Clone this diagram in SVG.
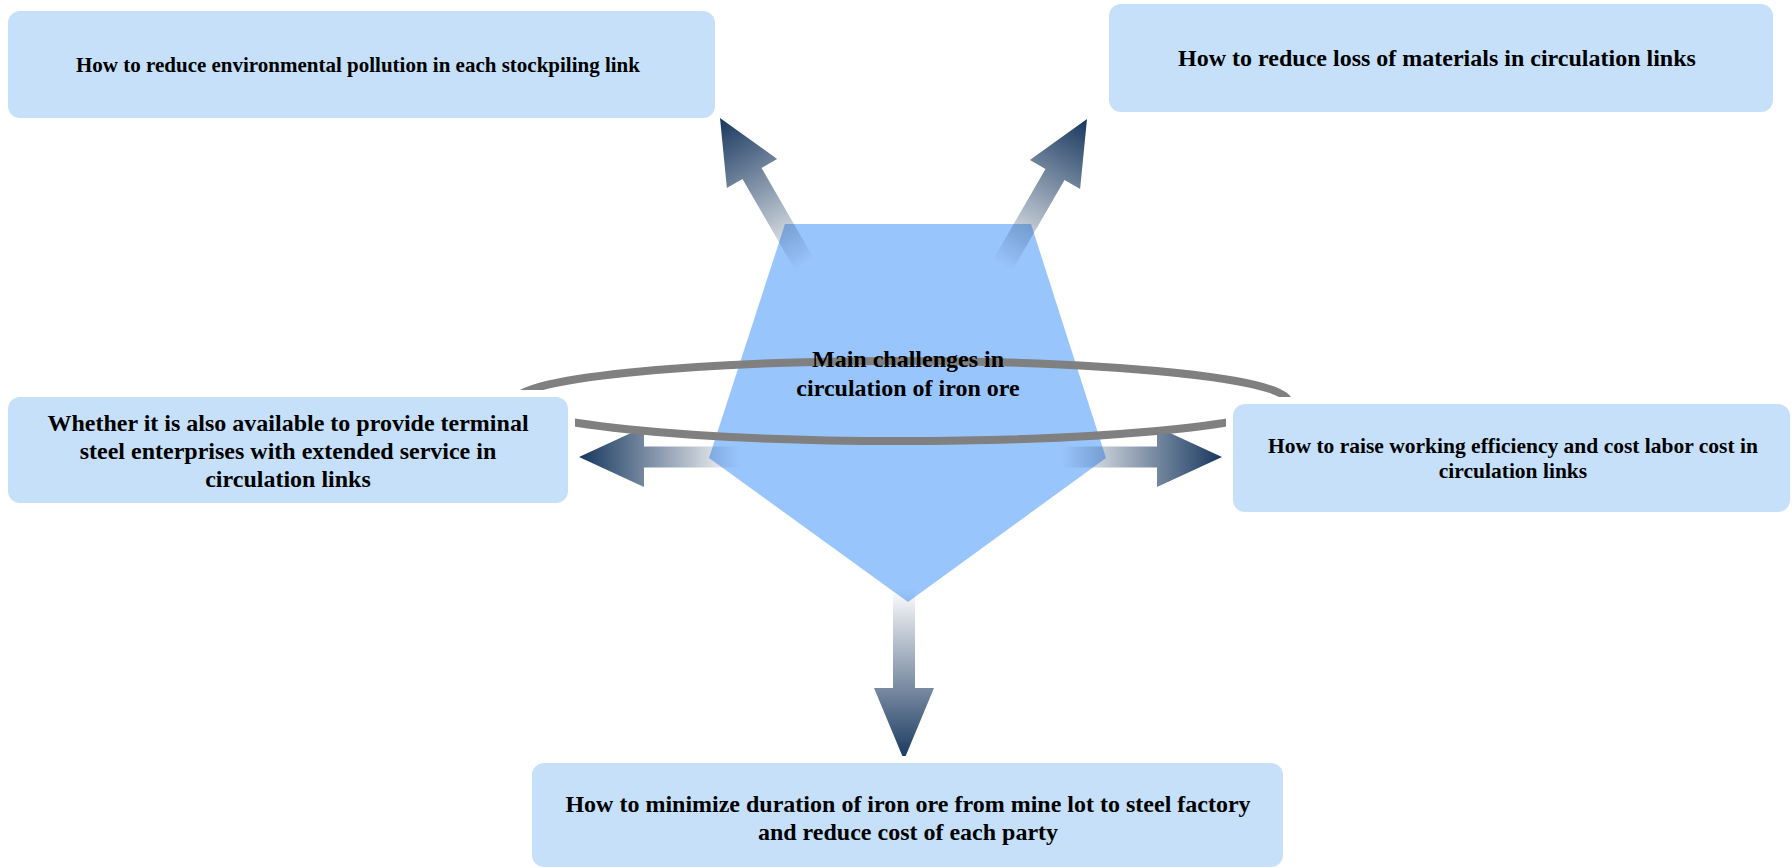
<svg xmlns="http://www.w3.org/2000/svg" width="1792" height="868" viewBox="0 0 1792 868">
  <style>
    .box { fill: #C6E0FA; }
    .halo { fill: #FFFFFF; }
    .hub { fill: #82B8FC; fill-opacity: 0.82; }
    .ring { fill: none; stroke: #808080; stroke-width: 8; }
    .arrow { fill: url(#fade); }
    .t { font-family: "Liberation Serif", "Times New Roman", serif; font-weight: bold; fill: #000000; text-anchor: middle; }
  </style>
  <defs>
    <!-- arrows run from a solid navy tip to a transparent tail -->
    <linearGradient id="fade" x1="0" y1="0" x2="0" y2="1">
      <stop offset="0" stop-color="#17375E" stop-opacity="1"/>
      <stop offset="1" stop-color="#17375E" stop-opacity="0"/>
    </linearGradient>
  </defs>

  <rect width="1792" height="868" fill="#FFFFFF"/>

  <!-- central pentagon -->
  <g id="hub">
    <polygon class="hub" points="785,224 1031,224 1106,458 908,602 709,458"/>
  </g>

  <!-- arrows pointing from the hub to each challenge -->
  <g id="connectors">
    <polygon class="arrow" transform="translate(720,118) rotate(-30)" points="0,0 29,64 11,64 11,170 -11,170 -11,64 -29,64"/>
    <polygon class="arrow" transform="translate(1087,119) rotate(30)" points="0,0 29,64 11,64 11,170 -11,170 -11,64 -29,64"/>
    <polygon class="arrow" transform="translate(579,457) rotate(-90)" points="0,0 30,65 10.5,65 10.5,161 -10.5,161 -10.5,65 -30,65"/>
    <polygon class="arrow" transform="translate(1222,457) rotate(90)" points="0,0 30,65 10.5,65 10.5,161 -10.5,161 -10.5,65 -30,65"/>
    <polygon class="arrow" transform="translate(904,760) rotate(180)" points="0,0 30,72 11,72 11,172 -11,172 -11,72 -30,72"/>
  </g>

  <!-- ring around the hub and its title -->
  <g id="hub-ring">
    <ellipse class="ring" cx="901" cy="401" rx="387" ry="40"/>
    <text class="t" font-size="24" x="908" y="367">Main challenges in</text>
    <text class="t" font-size="24" x="908" y="396">circulation of iron ore</text>
  </g>

  <g id="pollution">
    <rect class="halo" x="1" y="4" width="721" height="121" rx="18"/>
    <rect class="box" x="8" y="11" width="707" height="107" rx="12"/>
    <text class="t" font-size="21" x="358" y="72">How to reduce environmental pollution in each stockpiling link</text>
  </g>

  <g id="material-loss">
    <rect class="halo" x="1102" y="-3" width="678" height="122" rx="18"/>
    <rect class="box" x="1109" y="4" width="664" height="108" rx="12"/>
    <text class="t" font-size="24" x="1437" y="66">How to reduce loss of materials in circulation links</text>
  </g>

  <g id="extended-service">
    <rect class="halo" x="1" y="390" width="574" height="120" rx="18"/>
    <rect class="box" x="8" y="397" width="560" height="106" rx="12"/>
    <text class="t" font-size="24" x="288" y="431">Whether it is also available to provide terminal</text>
    <text class="t" font-size="24" x="288" y="459">steel enterprises with extended service in</text>
    <text class="t" font-size="24" x="288" y="487">circulation links</text>
  </g>

  <g id="efficiency">
    <rect class="halo" x="1226" y="397" width="571" height="122" rx="18"/>
    <rect class="box" x="1233" y="404" width="557" height="108" rx="12"/>
    <text class="t" font-size="21.5" x="1513" y="453">How to raise working efficiency and cost labor cost in</text>
    <text class="t" font-size="21.5" x="1513" y="478">circulation links</text>
  </g>

  <g id="duration">
    <rect class="halo" x="525" y="756" width="765" height="118" rx="18"/>
    <rect class="box" x="532" y="763" width="751" height="104" rx="12"/>
    <text class="t" font-size="24" x="908" y="812">How to minimize duration of iron ore from mine lot to steel factory</text>
    <text class="t" font-size="24" x="908" y="840">and reduce cost of each party</text>
  </g>
</svg>
